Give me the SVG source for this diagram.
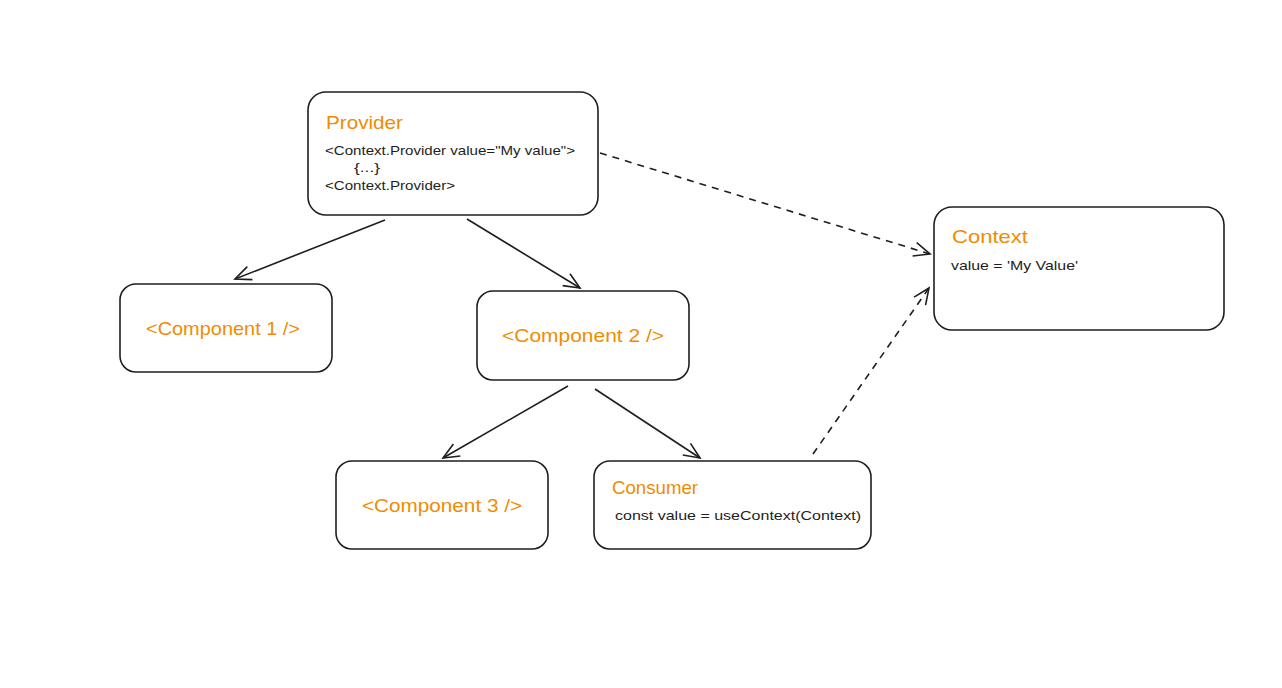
<svg xmlns="http://www.w3.org/2000/svg" width="1282" height="688" viewBox="0 0 1282 688">
<defs>
<style>
.box{fill:#fff;stroke:#1e1e1e;stroke-width:1.6}
.title{font-family:"Liberation Sans",Arial,sans-serif;fill:#f08c00;font-size:19px}
.comp{font-family:"Liberation Sans",Arial,sans-serif;fill:#f08c00;font-size:19px;text-anchor:middle}
.code{font-family:"Liberation Sans",Arial,sans-serif;fill:#1e1e1e;font-size:13.5px}
.edge{fill:none;stroke:#1e1e1e;stroke-width:1.6}
.dash{stroke-dasharray:7 6}
</style>
<marker id="arr" viewBox="0 0 20 20" refX="18" refY="10" markerWidth="20" markerHeight="20" markerUnits="userSpaceOnUse" orient="auto">
<path d="M2 3 L18 10 L2 17" fill="none" stroke="#1e1e1e" stroke-width="1.6"/>
</marker>
</defs>
<rect width="1282" height="688" fill="#fff"/>
<g id="connectors">
<path class="edge" d="M385 220 L235 279" marker-end="url(#arr)"/>
<path class="edge" d="M467 219 L580 288" marker-end="url(#arr)"/>
<path class="edge dash" d="M600 153 L930 254" marker-end="url(#arr)"/>
<path class="edge" d="M568 386 L443 458" marker-end="url(#arr)"/>
<path class="edge" d="M595 389 L700 458" marker-end="url(#arr)"/>
<path class="edge dash" d="M813 454 L929 288" marker-end="url(#arr)"/>
</g>
<g id="provider">
<rect class="box" x="308" y="92" width="290" height="123" rx="18"/>
<text class="title" x="326" y="129" textLength="77" lengthAdjust="spacingAndGlyphs">Provider</text>
<text class="code" x="325" y="155" textLength="250" lengthAdjust="spacingAndGlyphs">&lt;Context.Provider value="My value"&gt;</text>
<text class="code" x="354" y="172" textLength="26" lengthAdjust="spacingAndGlyphs">{...}</text>
<text class="code" x="325" y="190" textLength="130" lengthAdjust="spacingAndGlyphs">&lt;Context.Provider&gt;</text>
</g>
<g id="context">
<rect class="box" x="934" y="207" width="290" height="123" rx="18"/>
<text class="title" x="952" y="243" textLength="76" lengthAdjust="spacingAndGlyphs">Context</text>
<text class="code" x="951" y="270" textLength="127" lengthAdjust="spacingAndGlyphs">value = 'My Value'</text>
</g>
<g id="component1">
<rect class="box" x="120" y="284" width="212" height="88" rx="16"/>
<text class="comp" x="223" y="335" textLength="154" lengthAdjust="spacingAndGlyphs">&lt;Component 1 /&gt;</text>
</g>
<g id="component2">
<rect class="box" x="477" y="291" width="212" height="89" rx="16"/>
<text class="comp" x="583" y="342" textLength="162" lengthAdjust="spacingAndGlyphs">&lt;Component 2 /&gt;</text>
</g>
<g id="component3">
<rect class="box" x="336" y="461" width="212" height="88" rx="16"/>
<text class="comp" x="442" y="512" textLength="160" lengthAdjust="spacingAndGlyphs">&lt;Component 3 /&gt;</text>
</g>
<g id="consumer">
<rect class="box" x="594" y="461" width="277" height="88" rx="16"/>
<text class="title" x="612" y="494" textLength="86" lengthAdjust="spacingAndGlyphs">Consumer</text>
<text class="code" x="615" y="520" textLength="246" lengthAdjust="spacingAndGlyphs">const value = useContext(Context)</text>
</g>
</svg>
